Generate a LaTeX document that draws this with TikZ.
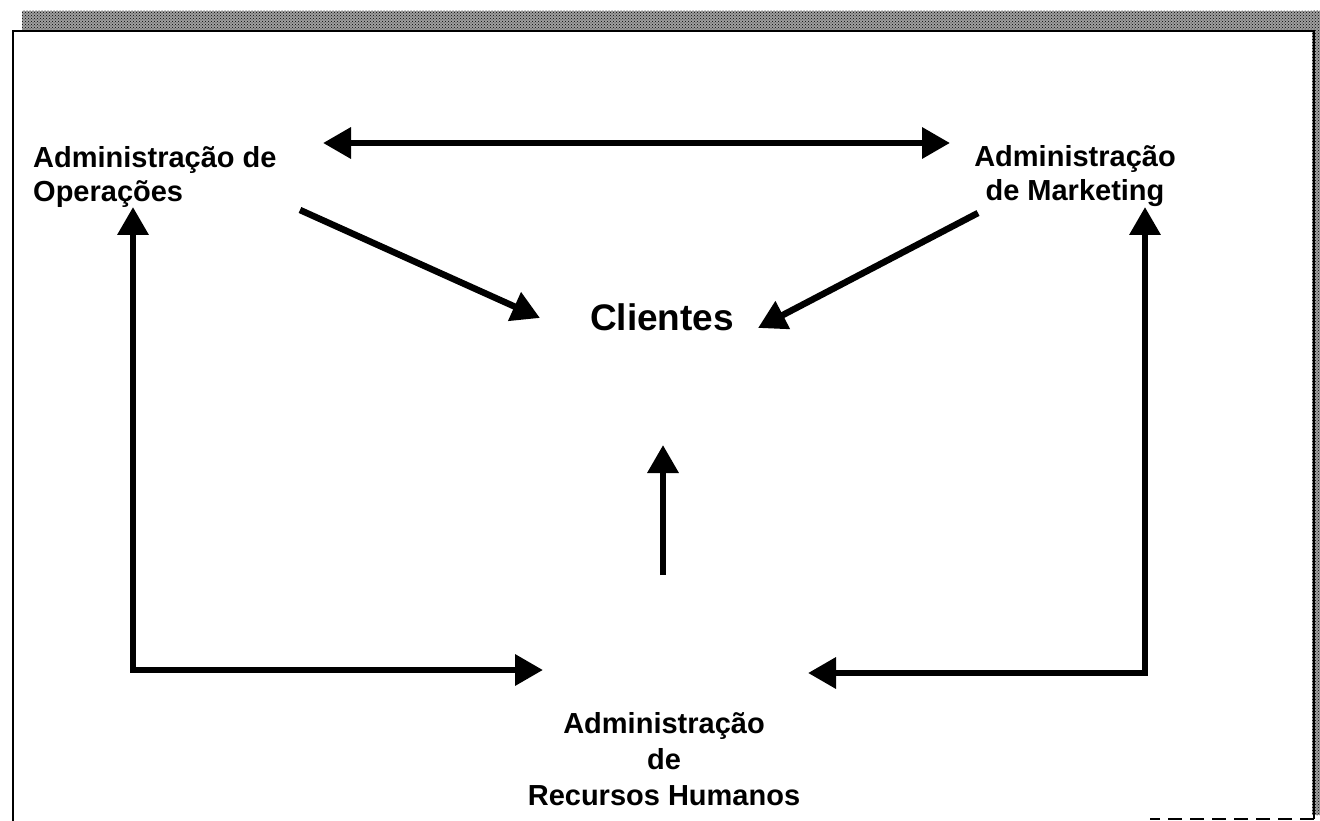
\documentclass[tikz,border=0pt]{standalone}
\usepackage{fontspec}
\setmainfont{Liberation Sans}
\usetikzlibrary{arrows.meta,patterns}
\begin{document}
\begin{tikzpicture}[x=1pt,y=-1pt,
  lbl/.style={font=\bfseries\fontsize{29}{34}\selectfont, inner sep=0pt},
  stacklbl/.style={font=\bfseries\fontsize{29}{36}\selectfont, inner sep=0pt},
  biglbl/.style={font=\bfseries\fontsize{37}{42}\selectfont, inner sep=0pt},
  tip/.tip={Triangle[length=28pt,width=30pt]},
  link/.style={line width=6.5pt, line join=miter, -tip},
  duplex/.style={line width=6.5pt, line join=miter, tip-tip},
  edge/.style={line width=2pt},
  grain/.style={pattern=crosshatch dots, pattern color=black},
]
\useasboundingbox (0,0) rectangle (1320,821);

% textured header strip and right edge
\fill[gray!75] (22,11) rectangle (1320,30);
\fill[grain] (22,11) rectangle (1320,30);
\fill[gray!75] (1312,11) rectangle (1320,815);
\fill[grain] (1312,11) rectangle (1320,815);

% page frame
\draw[edge] (13,821) -- (13,31) -- (1314,31) -- (1314,819);
\draw[edge, dash pattern=on 14pt off 8pt] (1314,819) -- (1150,819);

% labels
\node[lbl, anchor=north west, align=left] (ops) at (33,146) {Administração de\\Operações};
\node[lbl, anchor=north, align=center] (mkt) at (1075,145) {Administração\\de Marketing};
\node[biglbl, anchor=north] (cli) at (662,303) {Clientes};
\node[stacklbl, anchor=north, align=center] (rh) at (664,712) {Administração\\de\\Recursos Humanos};

% connector end points
\coordinate (opsTop) at (323,143);
\coordinate (mktTop) at (950,143);
\coordinate (opsOut) at (300,210);
\coordinate (cliLeft) at (540,318);
\coordinate (mktOut) at (978,213);
\coordinate (cliRight) at (758,328);
\coordinate (rhOut) at (663,575);
\coordinate (cliBottom) at (663,445);
\coordinate (opsUp) at (133,207);
\coordinate (leftCorner) at (133,670);
\coordinate (rhLeft) at (543,670);
\coordinate (mktUp) at (1145,207);
\coordinate (rightCorner) at (1145,673);
\coordinate (rhRight) at (808,673);

% connectors
\draw[duplex] (opsTop) -- (mktTop);
\draw[link] (opsOut) -- (cliLeft);
\draw[link] (mktOut) -- (cliRight);
\draw[link] (rhOut) -- (cliBottom);
\draw[duplex] (opsUp) -- (leftCorner) -- (rhLeft);
\draw[duplex] (rhRight) -- (rightCorner) -- (mktUp);
\end{tikzpicture}
\end{document}
